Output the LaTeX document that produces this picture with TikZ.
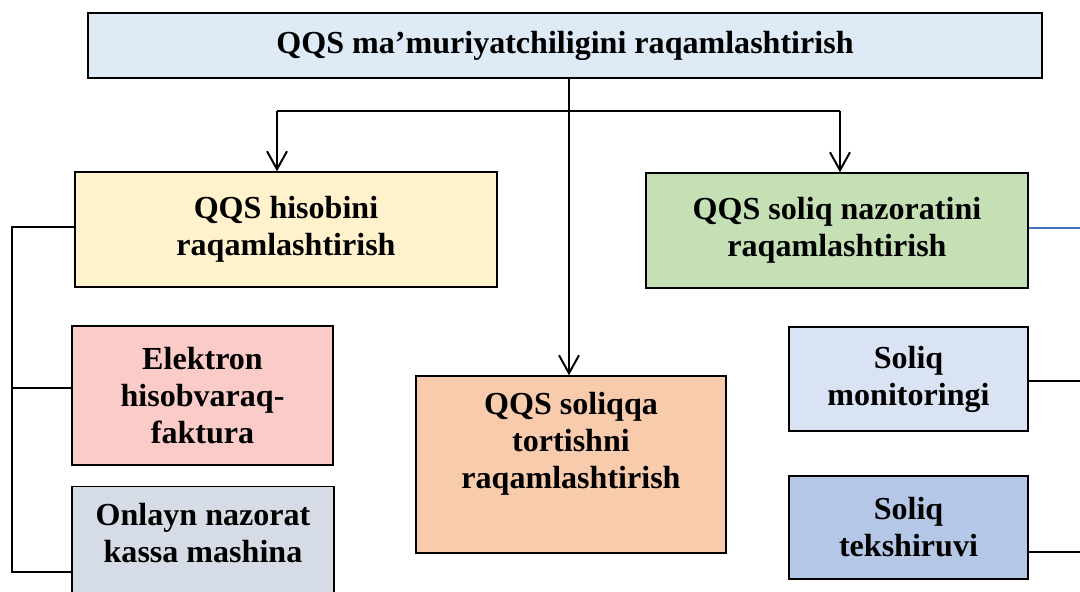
\documentclass[tikz,border=0pt]{standalone}
\usepackage{fontspec}
\setmainfont{Liberation Serif}
\usepackage{tikz}
\usetikzlibrary{arrows.meta,positioning}

\definecolor{topblue}{HTML}{DEEBF7}
\definecolor{hisobyellow}{HTML}{FFF2CC}
\definecolor{nazoratgreen}{HTML}{C5E0B4}
\definecolor{elektronpink}{HTML}{FBCBC8}
\definecolor{onlaynblue}{HTML}{D6DCE5}
\definecolor{soliqorange}{HTML}{F8CBAD}
\definecolor{monitorblue}{HTML}{DAE3F3}
\definecolor{tekshirblue}{HTML}{B4C7E7}
\definecolor{lineblue}{HTML}{4472C4}

\tikzset{
  qqsbox/.style={draw=black, line width=1pt, inner sep=0pt, align=center,
    font=\fontsize{22.8pt}{26.3pt}\selectfont\bfseries},
  qqsarrow/.style={line width=1.4pt, -{Straight Barb[length=4.5mm,width=5mm]}},
  qqsline/.style={line width=1.1pt}
}

\begin{document}
\begin{tikzpicture}[x=0.025cm,y=-0.025cm]
    \useasboundingbox (0,0) rectangle (1080,592);

    \node[qqsbox, fill=topblue, minimum width=23.85cm, minimum height=1.625cm]
      (top) at (565,45.5) {QQS ma’muriyatchiligini raqamlashtirish};

    \node[qqsbox, fill=hisobyellow, minimum width=10.55cm, minimum height=2.875cm]
      (hisob) at (286,229.5) {QQS hisobini\\raqamlashtirish};
    \node[qqsbox, fill=nazoratgreen, minimum width=9.55cm, minimum height=2.875cm]
      (nazorat) at (837,230.5) {QQS soliq nazoratini\\raqamlashtirish};

    \node[qqsbox, fill=elektronpink, minimum width=6.525cm, minimum height=3.475cm]
      (elektron) at (202.5,395.5) {Elektron\\hisobvaraq-\\faktura};
    \node[qqsbox, fill=onlaynblue, minimum width=6.55cm, minimum height=3.525cm]
      (onlayn) at (203,557) {Onlayn nazorat\\kassa mashina\\\strut};

    \node[qqsbox, fill=soliqorange, minimum width=7.75cm, minimum height=4.425cm]
      (tortish) at (571,464.5) {QQS soliqqa\\tortishni\\raqamlashtirish\\\strut};

    \node[qqsbox, fill=monitorblue, minimum width=5.975cm, minimum height=2.6cm]
      (monitor) at (908.5,379) {Soliq\\monitoringi};
    \node[qqsbox, fill=tekshirblue, minimum width=5.975cm, minimum height=2.575cm]
      (tekshir) at (908.5,527.5) {Soliq\\tekshiruvi};

    % top arrows
    \coordinate (split) at (569,111);
    \coordinate (lsplit) at (277,111);
    \coordinate (rsplit) at (840,111);
    \draw[qqsarrow] (split |- top.south) -- (split |- tortish.north);
    \draw[line width=1.4pt] (lsplit) -- (rsplit);
    \draw[qqsarrow] (lsplit) -- (lsplit |- hisob.north);
    \draw[qqsarrow] (rsplit) -- (rsplit |- nazorat.north);

    % left bracket
    \coordinate (lbtop) at (12,227);
    \coordinate (lbmid) at (12,388);
    \coordinate (lbbot) at (12,572);
    \draw[qqsline] (lbtop -| hisob.west) -- (lbtop) -- (lbbot) -- (lbbot -| onlayn.west);
    \draw[qqsline] (lbmid -| elektron.west) -- (lbmid);

    % right side
    \coordinate (rtop) at (1080,228);
    \coordinate (rmid) at (1080,381);
    \coordinate (rbot) at (1080,552);
    \draw[qqsline, lineblue] (rtop -| nazorat.east) -- (rtop);
    \draw[qqsline] (rmid -| monitor.east) -- (rmid);
    \draw[qqsline] (rbot -| tekshir.east) -- (rbot);
\end{tikzpicture}
\end{document}
